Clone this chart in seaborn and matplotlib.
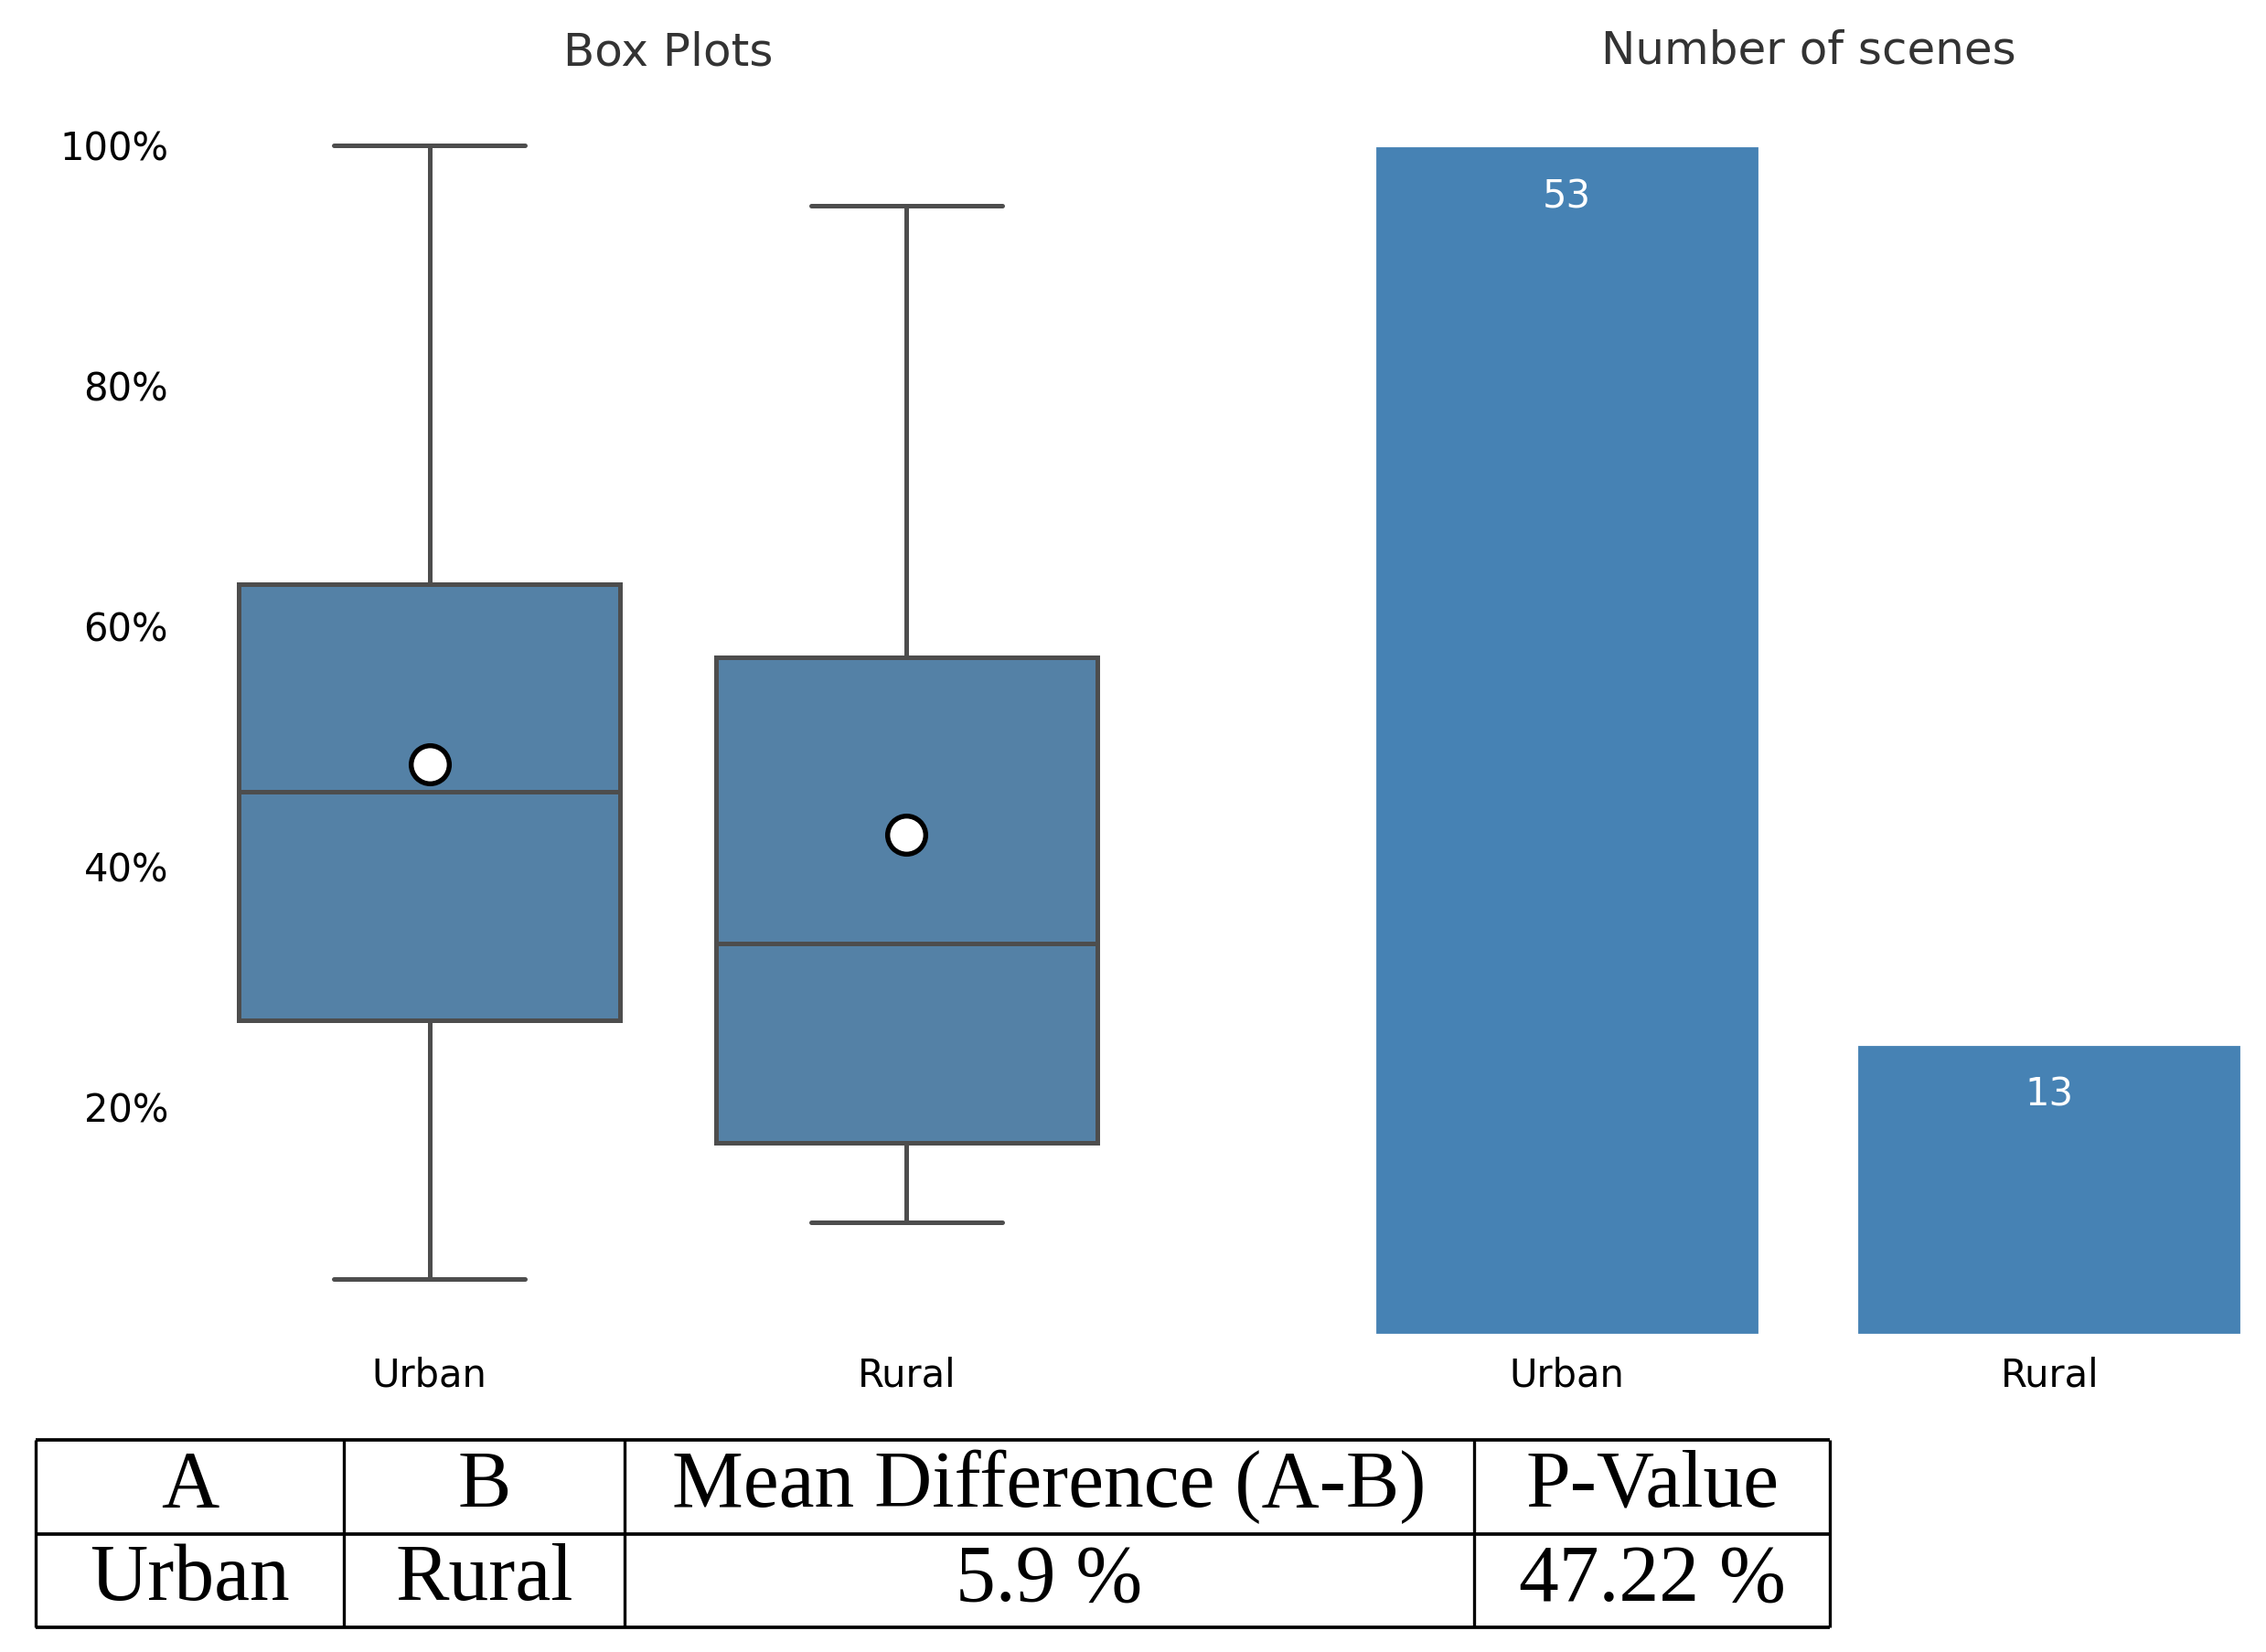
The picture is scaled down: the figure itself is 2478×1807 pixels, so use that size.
import pandas as pd
import matplotlib
matplotlib.use("Agg")
import matplotlib.pyplot as plt
import seaborn as sns
from matplotlib.ticker import PercentFormatter

# values (percent of scenes)
areas = ["Urban", "Rural"]
urban_vals = [5.7, 27.2, 46.2, 63.5, 100.0]   # min, q1, median, q3, max
rural_vals = [10.4, 17.0, 33.6, 57.4, 95.0]
scene_counts = [53, 13]

# stats table
table_header = ["A", "B", "Mean Difference (A-B)", "P-Value"]
table_row = ["Urban", "Rural", "5.9 %", "47.22 %"]

sns.set_theme(style="white")
plt.rcParams["font.family"] = ["DejaVu Sans"]

df = pd.DataFrame({
    "Area": ["Urban"] * len(urban_vals) + ["Rural"] * len(rural_vals),
    "Pct": urban_vals + rural_vals,
})
df_n = pd.DataFrame({"Area": areas, "Scenes": scene_counts})

W, H = 2478, 1807
fig = plt.figure(figsize=(W / 300, H / 300), dpi=300)
ax1 = fig.add_axes([209 / W, 1 - 1461 / H, 1043 / W, 1364 / H])
ax2 = fig.add_axes([1450 / W, 1 - 1461 / H, 1055 / W, 1367 / H])
ax3 = fig.add_axes([39 / W, 1 - 1780 / H, 1962 / W, 205 / H])

# box plots
sns.boxplot(data=df, x="Area", y="Pct", order=areas, color="steelblue",
            width=0.8, linewidth=1.2, linecolor="#4d4d4d", showmeans=True,
            meanprops=dict(marker="o", markerfacecolor="white",
                           markeredgecolor="black", markersize=10,
                           markeredgewidth=1.3),
            ax=ax1)
ax1.yaxis.set_major_formatter(PercentFormatter(xmax=100, decimals=0))
ax1.set_title("Box Plots", fontsize=12, color="#333333")
ax1.set_xlabel("")
ax1.set_ylabel("")
ax1.tick_params(axis="both", length=0, labelsize=10, labelcolor="black")
ax1.tick_params(axis="x", pad=5.5)
ax1.tick_params(axis="y", pad=6)

# number of scenes
sns.barplot(data=df_n, x="Area", y="Scenes", order=areas, color="steelblue",
            saturation=1, width=0.8, ax=ax2)
for c in ax2.containers:
    ax2.bar_label(c, padding=-18.5, color="white", fontsize=10)
ax2.set_title("Number of scenes", fontsize=12, color="#333333")
ax2.set_xlabel("")
ax2.set_ylabel("")
ax2.set_yticks([])
ax2.tick_params(axis="x", length=0, labelsize=10, labelcolor="black", pad=5.5)

sns.despine(ax=ax1, left=True, bottom=True)
sns.despine(ax=ax2, left=True, bottom=True)

# results table
col_edges = [0, 337, 644, 1573, 1962]
ax3.set_xlim(0, 1962)
ax3.set_ylim(0, 2)
ax3.axis("off")
ax3.hlines([0, 1, 2], 0, 1962, color="black", linewidth=0.9, clip_on=False)
ax3.vlines(col_edges, 0, 2, color="black", linewidth=0.8, clip_on=False)
for i in range(4):
    cx = (col_edges[i] + col_edges[i + 1]) / 2
    ax3.text(cx, 1.5, table_header[i], ha="center", va="center",
             fontsize=21, family=["Liberation Serif"], color="black")
    ax3.text(cx, 0.5, table_row[i], ha="center", va="center",
             fontsize=21, family=["Liberation Serif"], color="black")

fig.savefig("out.png", dpi=300, facecolor="white")
